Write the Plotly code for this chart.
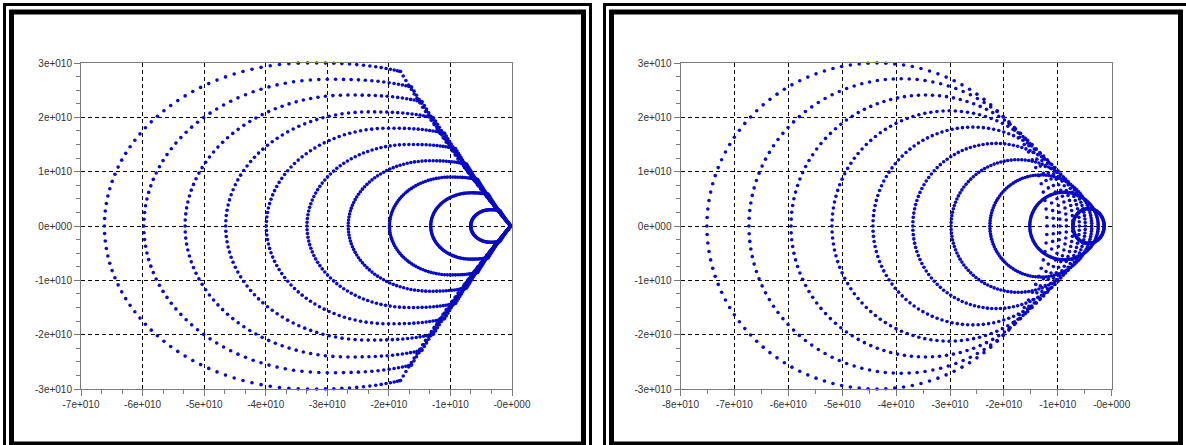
import numpy as np
import plotly.graph_objects as go

SCALE = 1e10

# ---------------- data (units of 1e10) ----------------
# Left panel: arcs that all start near the tip at x ~ -0.02e10
left_tip = -0.02
left_diameters = [0.65, 1.30, 1.97, 2.64, 3.31, 3.97, 4.63, 5.29, 5.96, 6.60]
left_heights = [0.30, 0.61, 0.90, 1.20, 1.50, 1.80, 2.10, 2.41, 2.70, 3.00]
left_points_left_half = 69     # dots on the rounded left half of each arc
left_points_right_part = 16    # dots on each upper/lower right part
left_right_flatness = 2.6      # right-hand part of each arc is a little flatter than an ellipse
left_cone_slope = 0.63         # cone edge: x = tip - slope * |y|
left_cone_points_per_arc = 36  # points running back along the cone edge to the tip
left_cone_bow = 0.04           # slight inward bow of those runs (fraction of diameter)

# Right panel: closed loops (leftmost x, rightmost x, half height)
right_left_x = [-0.72, -1.52, -2.26, -2.98, -3.69, -4.43, -5.19, -5.95, -6.73, -7.51]
right_right_x = [-0.14, -0.25, -0.37, -0.49, -0.60, -0.72, -0.84, -0.96, -1.08, -1.20]
right_heights = [0.32, 0.62, 0.94, 1.22, 1.52, 1.82, 2.12, 2.41, 2.71, 3.00]
right_points_per_loop = 120

# tick labels
left_xticks = [-7, -6, -5, -4, -3, -2, -1, 0]
left_xlabels = ["-7e+010", "-6e+010", "-5e+010", "-4e+010", "-3e+010", "-2e+010", "-1e+010", "-0e+000"]
right_xticks = [-8, -7, -6, -5, -4, -3, -2, -1, 0]
right_xlabels = ["-8e+010", "-7e+010", "-6e+010", "-5e+010", "-4e+010", "-3e+010", "-2e+010", "-1e+010", "-0e+000"]
yticks = [-3, -2, -1, 0, 1, 2, 3]
ylabels = ["-3e+010", "-2e+010", "-1e+010", "0e+000", "1e+010", "2e+010", "3e+010"]

# ---------------- build point sets ----------------
n = left_right_flatness
phi = np.radians(np.linspace(-90, 90, left_points_left_half))
s = np.linspace(0, 1, left_points_right_part + 1)[1:]
tc = np.linspace(1, 0, left_cone_points_per_arc + 1)[1:]

lx, ly = [], []
for d, h in zip(left_diameters, left_heights):
    r = d / 2.0
    cx = left_tip - r
    lx.append(cx - r * np.cos(phi))
    ly.append(h * np.sin(phi))
    # where the flattened right part meets the cone edge
    wg = np.linspace(0, 1, 4001)
    yg = h * (1 - wg ** n) ** (1 / n)
    xg = cx + r * wg
    wm = wg[np.argmax(xg >= left_tip - left_cone_slope * yg)]
    w = wm * (1 - (1 - s) ** 1.6)
    wy = (1 - w ** n) ** (1 / n)
    for sgn in (1, -1):
        xr = cx + r * w
        yr = sgn * h * wy
        lx.append(xr)
        ly.append(yr)
        # run back along the cone edge from the arc end to the tip
        xe, ye = xr[-1], yr[-1]
        dx, dy = xe - left_tip, ye
        ln = np.hypot(dx, dy)
        nx, ny = -abs(dy) / ln, -np.sign(dy) * abs(dx) / ln
        bow = left_cone_bow * d * tc * (1 - tc)
        lx.append(left_tip + dx * tc + nx * bow)
        ly.append(dy * tc + ny * bow)
lx = np.concatenate(lx) * SCALE
ly = np.concatenate(ly) * SCALE

rx, ry = [], []
phi2 = np.radians(np.linspace(0, 360, right_points_per_loop, endpoint=False))
for L, R, h in zip(right_left_x, right_right_x, right_heights):
    c = (L + R) / 2.0
    a = (R - L) / 2.0
    rx.append(c - a * np.cos(phi2))
    ry.append(h * np.sin(phi2))
rx = np.concatenate(rx) * SCALE
ry = np.concatenate(ry) * SCALE

W, H = 1186, 445
def px(x):
    return x / W
def py(y):
    return 1 - y / H

marker = dict(color="#0a0ac4", size=3.6, line=dict(width=0))

fig = go.Figure()
fig.add_trace(go.Scatter(x=lx, y=ly, mode="markers", marker=marker,
                         xaxis="x", yaxis="y", cliponaxis=False, hoverinfo="skip"))
fig.add_trace(go.Scatter(x=rx, y=ry, mode="markers", marker=marker,
                         xaxis="x2", yaxis="y2", cliponaxis=False, hoverinfo="skip"))

tickfont = dict(family="Liberation Sans, Arial, sans-serif", size=10, color="#333333")
common = dict(showline=True, mirror=True, linecolor="#7a7a7a", linewidth=1,
              ticks="outside", ticklen=6, tickwidth=1, tickcolor="#7a7a7a",
              showgrid=True, gridcolor="#000000", gridwidth=1, griddash="4px,3px",
              zeroline=False, tickfont=tickfont, tickmode="array", fixedrange=True,
              automargin=False)

ydom = [py(389), py(63)]
fig.update_layout(
    width=W, height=H, autosize=False, margin=dict(l=0, r=0, t=0, b=0, pad=0),
    paper_bgcolor="white", plot_bgcolor="white", showlegend=False,
    xaxis=dict(domain=[px(81), px(512)], range=[-7 * SCALE, 0], anchor="y",
               tickvals=[v * SCALE for v in left_xticks], ticktext=left_xlabels,
               minor=dict(tickmode="linear", tick0=0, dtick=SCALE / 3, ticklen=4,
                          tickcolor="#7a7a7a", ticks="outside", showgrid=False),
               **common),
    yaxis=dict(domain=ydom, range=[-3 * SCALE, 3 * SCALE], anchor="x",
               tickvals=[v * SCALE for v in yticks], ticktext=ylabels,
               minor=dict(tickmode="linear", tick0=0, dtick=SCALE / 4, ticklen=4,
                          tickcolor="#7a7a7a", ticks="outside", showgrid=False),
               **common),
    xaxis2=dict(domain=[px(680.5), px(1111.7)], range=[-8 * SCALE, 0], anchor="y2",
                tickvals=[v * SCALE for v in right_xticks], ticktext=right_xlabels,
                minor=dict(tickmode="linear", tick0=0, dtick=SCALE / 2, ticklen=4,
                           tickcolor="#7a7a7a", ticks="outside", showgrid=False),
                **common),
    yaxis2=dict(domain=ydom, range=[-3 * SCALE, 3 * SCALE], anchor="x2",
                tickvals=[v * SCALE for v in yticks], ticktext=ylabels,
                minor=dict(tickmode="linear", tick0=0, dtick=SCALE / 4, ticklen=4,
                           tickcolor="#7a7a7a", ticks="outside", showgrid=False),
                **common),
)

# double frames around each panel
def frame(x0, y0, x1, y1, w_):
    fig.add_shape(type="rect", xref="paper", yref="paper",
                  x0=px(x0), x1=px(x1), y0=py(y1), y1=py(y0),
                  line=dict(color="black", width=w_), fillcolor="rgba(0,0,0,0)", layer="above")

frame(4.5, 4.5, 590.5, 452, 3)
frame(11.5, 12, 583.5, 444, 5)
frame(604.5, 4.5, 1190, 452, 3)
frame(611.5, 12, 1180.5, 444, 5)

fig.write_html("out.html", config={"responsive": False, "displayModeBar": False},
               post_script="document.body.style.margin='0px';"
                           "document.body.style.overflow='hidden';"
                           "document.documentElement.style.overflow='hidden';")
